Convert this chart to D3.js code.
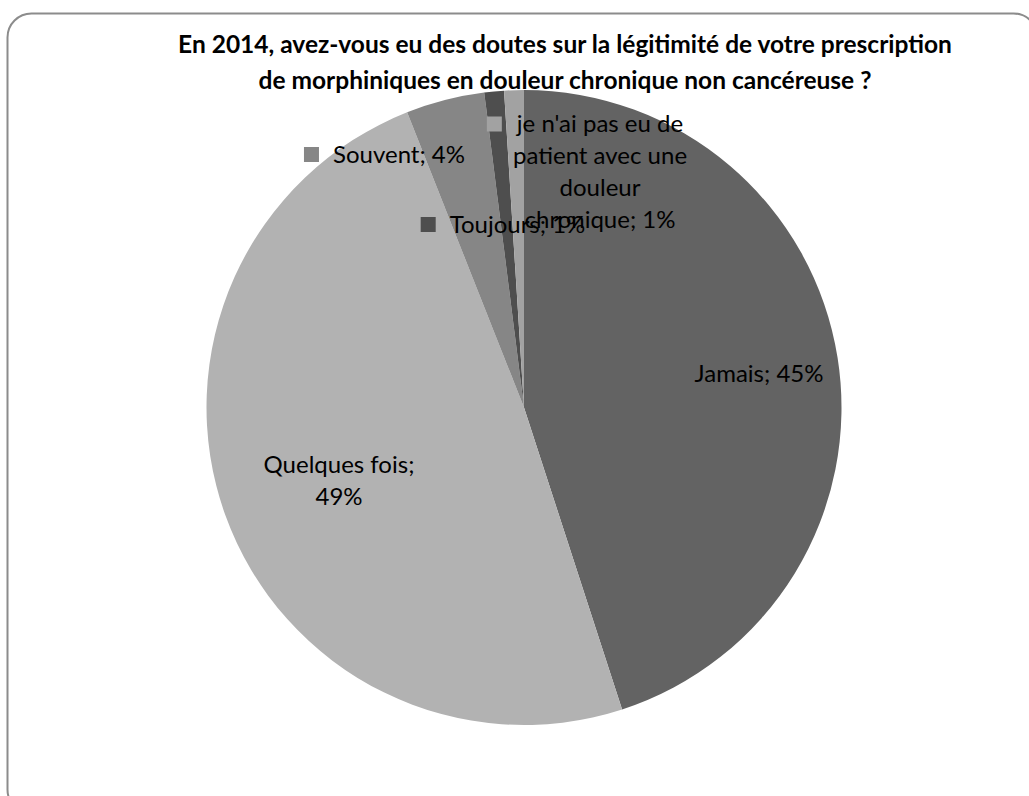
<!DOCTYPE html>
<html>
<head>
<meta charset="utf-8">
<script src="https://cdn.jsdelivr.net/npm/d3@7"></script>
<style>
  html, body { margin: 0; padding: 0; background: #fff; }
  svg { display: block; }
  text { font-family: Lato, "Noto Sans", sans-serif; fill: #000; }
</style>
</head>
<body>
<svg id="chart" width="1029" height="796"></svg>
<script>
// Survey answers, clockwise from 12 o'clock
const categories = ["Jamais", "Quelques fois", "Souvent", "Toujours", "je n'ai pas eu de patient avec une douleur chronique"];
const values = [45, 49, 4, 1, 1];
const colors = ["#636363", "#b2b2b2", "#868686", "#4e4e4e", "#a2a2a2"];
const titleLines = [
  "En 2014, avez-vous eu des doutes sur la légitimité de votre prescription",
  "de morphiniques en douleur chronique non cancéreuse ?"
];

const svg = d3.select("#chart");

// chart area frame
svg.append("rect")
  .attr("x", 7.5).attr("y", 13.5)
  .attr("width", 1030).attr("height", 800)
  .attr("rx", 24).attr("ry", 24)
  .attr("fill", "#fff")
  .attr("stroke", "#8c8c8c").attr("stroke-width", 2);

// title
svg.append("g").selectAll("text")
  .data(titleLines)
  .join("text")
  .attr("x", 565)
  .attr("y", (d, i) => 44 + i * 36)
  .attr("dy", "0.35em")
  .attr("text-anchor", "middle")
  .attr("font-size", 24.5)
  .attr("font-weight", "bold")
  .text(d => d);

const cx = 524, cy = 407.5, r = 317.5;
const pie = d3.pie().sort(null).value(d => d.value);
const arc = d3.arc().innerRadius(0).outerRadius(r);
const data = categories.map((c, i) => ({ name: c, value: values[i], color: colors[i] }));
const arcs = pie(data);

const g = svg.append("g").attr("transform", `translate(${cx},${cy})`);
g.selectAll("path")
  .data(arcs)
  .join("path")
  .attr("d", arc)
  .attr("fill", d => d.data.color);

// data labels: text lines, label centre offset from pie centre, optional legend key
const fs = 24;
const labelLayout = [
  { lines: [`${categories[0]}; ${values[0]}%`], dx: 235, dy: -34, key: false },
  { lines: [`${categories[1]};`, `${values[1]}%`], dx: -185, dy: 73, key: false },
  { lines: [`${categories[2]}; ${values[2]}%`], dx: -140, dy: -253, key: true },
  { lines: [`${categories[3]}; ${values[3]}%`], dx: -21.5, dy: -183, key: true },
  { lines: ["je n'ai pas eu de", "patient avec une", "douleur", `chronique; ${values[4]}%`], dx: 76, dy: -235.5, key: true }
];

const lineH = 32;
labelLayout.forEach((L, i) => {
  const lg = g.append("g");
  const n = L.lines.length;
  const t = lg.selectAll("text")
    .data(L.lines)
    .join("text")
    .attr("x", L.dx)
    .attr("y", (d, j) => L.dy + (j - (n - 1) / 2) * lineH)
    .attr("dy", "0.35em")
    .attr("text-anchor", "middle")
    .attr("font-size", fs)
    .text(d => d);
  if (L.key) {
    // legend key sits to the left of the first line
    const first = t.nodes()[0];
    const bb = first.getBBox();
    const ky = L.dy - (n - 1) / 2 * lineH;
    lg.append("rect")
      .attr("x", bb.x - 29).attr("y", ky - 7.5)
      .attr("width", 15).attr("height", 15)
      .attr("fill", colors[i]);
    if (n === 1) {
      // shift single-line labels so key + text stay centred
      lg.attr("transform", "translate(15,0)");
    }
  }
});
</script>
</body>
</html>
